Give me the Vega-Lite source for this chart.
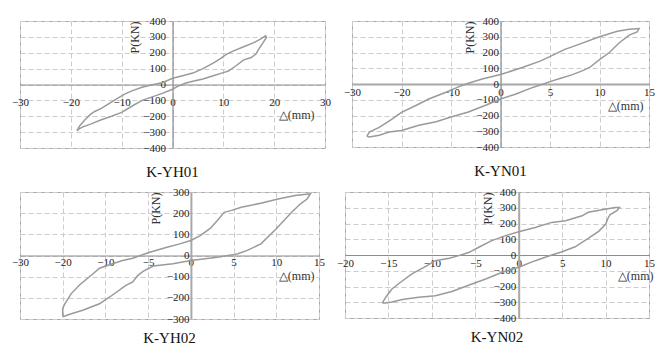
{
  "$schema": "https://vega.github.io/schema/vega-lite/v6.json",
  "padding": {"left": 10, "top": 14, "right": 0, "bottom": 0},
  "background": "white",
  "datasets": {
    "yh01": [
      {"i":1,"d":-18.8,"p":-292},{"i":2,"d":-18.3,"p":-262},{"i":3,"d":-17.3,"p":-225},{"i":4,"d":-16.2,"p":-190},{"i":5,"d":-15.3,"p":-170},{"i":6,"d":-14,"p":-150},{"i":7,"d":-12.5,"p":-120},{"i":8,"d":-11,"p":-90},{"i":9,"d":-9.5,"p":-62},{"i":10,"d":-8,"p":-40},{"i":11,"d":-6,"p":-17},{"i":12,"d":-4,"p":-2},{"i":13,"d":-2,"p":11},{"i":14,"d":0,"p":39},{"i":15,"d":2,"p":55},{"i":16,"d":4,"p":72},{"i":17,"d":6,"p":100},{"i":18,"d":8,"p":135},{"i":19,"d":9.5,"p":165},{"i":20,"d":10.5,"p":188},{"i":21,"d":12,"p":212},{"i":22,"d":14,"p":238},{"i":23,"d":16,"p":264},{"i":24,"d":17.3,"p":286},{"i":25,"d":18.3,"p":307},
      {"i":26,"d":18.5,"p":298},{"i":27,"d":17.8,"p":262},{"i":28,"d":17,"p":225},{"i":29,"d":16.4,"p":192},{"i":30,"d":15.5,"p":170},{"i":31,"d":14,"p":155},{"i":32,"d":12.5,"p":118},{"i":33,"d":11,"p":85},{"i":34,"d":10,"p":75},{"i":35,"d":8,"p":55},{"i":36,"d":6,"p":35},{"i":37,"d":4,"p":20},{"i":38,"d":2.5,"p":8},{"i":39,"d":1,"p":-12},{"i":40,"d":0,"p":-30},{"i":41,"d":-2,"p":-56},{"i":42,"d":-4,"p":-78},{"i":43,"d":-6,"p":-100},{"i":44,"d":-8,"p":-137},{"i":45,"d":-10,"p":-176},{"i":46,"d":-12,"p":-200},{"i":47,"d":-14,"p":-222},{"i":48,"d":-16,"p":-248},{"i":49,"d":-17.5,"p":-265},{"i":50,"d":-18.4,"p":-280},{"i":51,"d":-18.8,"p":-292}
    ],
    "yn01": [
      {"i":1,"d":-27,"p":-332},{"i":2,"d":-26.5,"p":-305},{"i":3,"d":-24.5,"p":-275},{"i":4,"d":-22,"p":-225},{"i":5,"d":-20,"p":-180},{"i":6,"d":-17,"p":-135},{"i":7,"d":-14.5,"p":-95},{"i":8,"d":-11,"p":-52},{"i":9,"d":-8.5,"p":-18},{"i":10,"d":-6.5,"p":5},{"i":11,"d":-3.7,"p":32},{"i":12,"d":0,"p":60},{"i":13,"d":2.2,"p":105},{"i":14,"d":4,"p":145},{"i":15,"d":5.2,"p":180},{"i":16,"d":6.5,"p":220},{"i":17,"d":7.5,"p":242},{"i":18,"d":10,"p":300},{"i":19,"d":11.8,"p":335},{"i":20,"d":13,"p":348},{"i":21,"d":14,"p":352},
      {"i":22,"d":13.8,"p":330},{"i":23,"d":13,"p":310},{"i":24,"d":12,"p":262},{"i":25,"d":11,"p":200},{"i":26,"d":10,"p":155},{"i":27,"d":9,"p":105},{"i":28,"d":8.3,"p":85},{"i":29,"d":7.2,"p":58},{"i":30,"d":6,"p":35},{"i":31,"d":5,"p":15},{"i":32,"d":4.4,"p":2},{"i":33,"d":3,"p":-28},{"i":34,"d":1.5,"p":-65},{"i":35,"d":0,"p":-95},{"i":36,"d":-3,"p":-135},{"i":37,"d":-6.5,"p":-178},{"i":38,"d":-10,"p":-210},{"i":39,"d":-13,"p":-240},{"i":40,"d":-16.5,"p":-262},{"i":41,"d":-20,"p":-295},{"i":42,"d":-22.5,"p":-305},{"i":43,"d":-24.5,"p":-325},{"i":44,"d":-26.5,"p":-337},{"i":45,"d":-27,"p":-332}
    ],
    "yh02": [
      {"i":1,"d":-20,"p":-288},{"i":2,"d":-20,"p":-250},{"i":3,"d":-19.5,"p":-228},{"i":4,"d":-18,"p":-180},{"i":5,"d":-16,"p":-138},{"i":6,"d":-12.9,"p":-86},{"i":7,"d":-11.4,"p":-60},{"i":8,"d":-9.5,"p":-44},{"i":9,"d":-8,"p":-24},{"i":10,"d":-6.8,"p":-13},{"i":11,"d":-5,"p":13},{"i":12,"d":-2.8,"p":39},{"i":13,"d":-1.3,"p":55},{"i":14,"d":0,"p":71},{"i":15,"d":1.1,"p":94},{"i":16,"d":2.3,"p":129},{"i":17,"d":3.1,"p":165},{"i":18,"d":3.9,"p":204},{"i":19,"d":4.7,"p":212},{"i":20,"d":5.9,"p":228},{"i":21,"d":8.3,"p":248},{"i":22,"d":10.2,"p":267},{"i":23,"d":12.2,"p":283},{"i":24,"d":13.8,"p":290},{"i":25,"d":14,"p":292},
      {"i":26,"d":13.6,"p":267},{"i":27,"d":12.8,"p":243},{"i":28,"d":11.8,"p":204},{"i":29,"d":10,"p":126},{"i":30,"d":8.2,"p":55},{"i":31,"d":6.6,"p":24},{"i":32,"d":5.5,"p":8},{"i":33,"d":4.9,"p":3},{"i":34,"d":3.1,"p":-8},{"i":35,"d":0,"p":-24},{"i":36,"d":-2.1,"p":-39},{"i":37,"d":-4.4,"p":-50},{"i":38,"d":-5.6,"p":-75},{"i":39,"d":-6.2,"p":-94},{"i":40,"d":-6.8,"p":-125},{"i":41,"d":-7.6,"p":-141},{"i":42,"d":-9.5,"p":-196},{"i":43,"d":-11.4,"p":-228},{"i":44,"d":-15.3,"p":-259},{"i":45,"d":-18,"p":-275},{"i":46,"d":-19.5,"p":-286},{"i":47,"d":-20,"p":-288}
    ],
    "yn02": [
      {"i":1,"d":-15.7,"p":-304},{"i":2,"d":-15.3,"p":-268},{"i":3,"d":-14.6,"p":-216},{"i":4,"d":-13.6,"p":-173},{"i":5,"d":-12.3,"p":-120},{"i":6,"d":-10.7,"p":-72},{"i":7,"d":-9.6,"p":-36},{"i":8,"d":-8,"p":-21},{"i":9,"d":-6.9,"p":-4},{"i":10,"d":-5.7,"p":17},{"i":11,"d":-4.6,"p":49},{"i":12,"d":-3.1,"p":91},{"i":13,"d":-1.5,"p":123},{"i":14,"d":0,"p":148},{"i":15,"d":1.9,"p":175},{"i":16,"d":3.8,"p":207},{"i":17,"d":5.4,"p":218},{"i":18,"d":7.3,"p":249},{"i":19,"d":8,"p":271},{"i":20,"d":9.6,"p":288},{"i":21,"d":11.1,"p":302},{"i":22,"d":11.6,"p":302},
      {"i":23,"d":11.3,"p":281},{"i":24,"d":10.5,"p":255},{"i":25,"d":10.3,"p":235},{"i":26,"d":10,"p":195},{"i":27,"d":9.2,"p":150},{"i":28,"d":8,"p":105},{"i":29,"d":6.5,"p":52},{"i":30,"d":5,"p":21},{"i":31,"d":3.8,"p":0},{"i":32,"d":1.9,"p":-36},{"i":33,"d":0,"p":-78},{"i":34,"d":-1.9,"p":-110},{"i":35,"d":-3.8,"p":-152},{"i":36,"d":-5.7,"p":-190},{"i":37,"d":-7.7,"p":-232},{"i":38,"d":-9.6,"p":-258},{"i":39,"d":-11.5,"p":-268},{"i":40,"d":-13.4,"p":-283},{"i":41,"d":-14.6,"p":-298},{"i":42,"d":-15.3,"p":-304},{"i":43,"d":-15.7,"p":-304}
    ]
  },
  "vconcat": [
    {
      "bounds": "flush",
      "spacing": 27,
      "hconcat": [
        {
          "width": 305, "height": 127,
          "title": {"text": "K-YH01", "orient": "bottom", "offset": 12},
          "data": {"name": "yh01"},
          "mark": {"type": "line"},
          "encoding": {
            "x": {"field": "d", "type": "quantitative",
                  "scale": {"domain": [-30, 30], "nice": false, "zero": false},
                  "axis": {"values": [-30,-20,-10,0,10,20,30], "offset": -63.5, "labelPadding": 12, "title": "△(mm)", "titleAnchor": "end", "titleX": 294, "titlePadding": 2}},
            "y": {"field": "p", "type": "quantitative",
                  "scale": {"domain": [-400, 400], "nice": false},
                  "axis": {"values": [-400,-300,-200,-100,0,100,200,300,400], "offset": -152.5, "labelPadding": 7, "title": "P(KN)", "titleAnchor": "end", "titleX": -31}},
            "order": {"field": "i", "type": "quantitative"}
          }
        },
        {
          "width": 297, "height": 126,
          "title": {"text": "K-YN01", "orient": "bottom", "offset": 12},
          "data": {"name": "yn01"},
          "mark": {"type": "line"},
          "encoding": {
            "x": {"field": "d", "type": "quantitative",
                  "scale": {"domain": [-30, 0, 15], "range": [0, 148.5, 297], "nice": false, "zero": false},
                  "axis": {"values": [-30,-20,-10,0,5,10,15], "offset": -63, "labelPadding": 2, "title": "△(mm)", "titleAnchor": "end", "titleX": 291, "titlePadding": 3, "domainWidth": 2, "domainColor": "#a8a8a8"}},
            "y": {"field": "p", "type": "quantitative",
                  "scale": {"domain": [-400, 400], "nice": false},
                  "axis": {"values": [-400,-300,-200,-100,0,100,200,300,400], "offset": -148.5, "labelPadding": 2, "title": "P(KN)", "titleAnchor": "end", "titleX": -24}},
            "order": {"field": "i", "type": "quantitative"}
          }
        }
      ]
    },
    {
      "bounds": "flush",
      "spacing": 26,
      "hconcat": [
        {
          "width": 299, "height": 127,
          "title": {"text": "K-YH02", "orient": "bottom", "offset": 7},
          "data": {"name": "yh02"},
          "mark": {"type": "line"},
          "encoding": {
            "x": {"field": "d", "type": "quantitative",
                  "scale": {"domain": [-30, -10, 15], "range": [0, 85.43, 299], "nice": false, "zero": false},
                  "axis": {"values": [-30,-20,-10,-5,0,5,10,15], "offset": -63.5, "labelPadding": 1, "title": "△(mm)", "titleAnchor": "end", "titleX": 294, "titlePadding": 3}},
            "y": {"field": "p", "type": "quantitative",
                  "scale": {"domain": [-300, 300], "nice": false},
                  "axis": {"values": [-300,-200,-100,0,100,200,300], "offset": -170.9, "labelPadding": 2, "title": "P(KN)", "titleAnchor": "end", "titleX": -28, "domainWidth": 2, "domainColor": "#a8a8a8"}},
            "order": {"field": "i", "type": "quantitative"}
          }
        },
        {
          "width": 304, "height": 126,
          "title": {"text": "K-YN02", "orient": "bottom", "offset": 7},
          "data": {"name": "yn02"},
          "mark": {"type": "line"},
          "encoding": {
            "x": {"field": "d", "type": "quantitative",
                  "scale": {"domain": [-20, 15], "nice": false, "zero": false},
                  "axis": {"values": [-20,-15,-10,-5,0,5,10,15], "offset": -63, "labelPadding": 2, "title": "△(mm)", "titleAnchor": "end", "titleX": 308, "titlePadding": 2}},
            "y": {"field": "p", "type": "quantitative",
                  "scale": {"domain": [-400, 400], "nice": false},
                  "axis": {"values": [-400,-300,-200,-100,0,100,200,300,400], "offset": -173.7, "labelPadding": 3, "title": "P(KN)", "titleAnchor": "end", "titleX": -24, "domainWidth": 2, "domainColor": "#a8a8a8"}},
            "order": {"field": "i", "type": "quantitative"}
          }
        }
      ]
    }
  ],
  "spacing": 4,
  "config": {
    "font": "Liberation Serif",
    "view": {"stroke": "#a6a6a6", "strokeWidth": 1},
    "axis": {"grid": true, "gridColor": "#cccccc", "gridDash": [5, 3], "gridWidth": 1, "ticks": false, "domainColor": "#8c8c8c", "domainWidth": 1.2, "labelFont": "Liberation Serif", "labelFontSize": 11, "labelColor": "#222222", "titleFont": "Liberation Serif", "titleFontSize": 12, "titleFontWeight": "normal", "titleColor": "#333333", "labelFlush": false, "labelOverlap": false, "labelBound": false},
    "title": {"font": "Liberation Serif", "fontSize": 15, "fontWeight": "normal", "color": "#111111"},
    "line": {"color": "#9a9a9a", "strokeWidth": 1.5}
  }
}
